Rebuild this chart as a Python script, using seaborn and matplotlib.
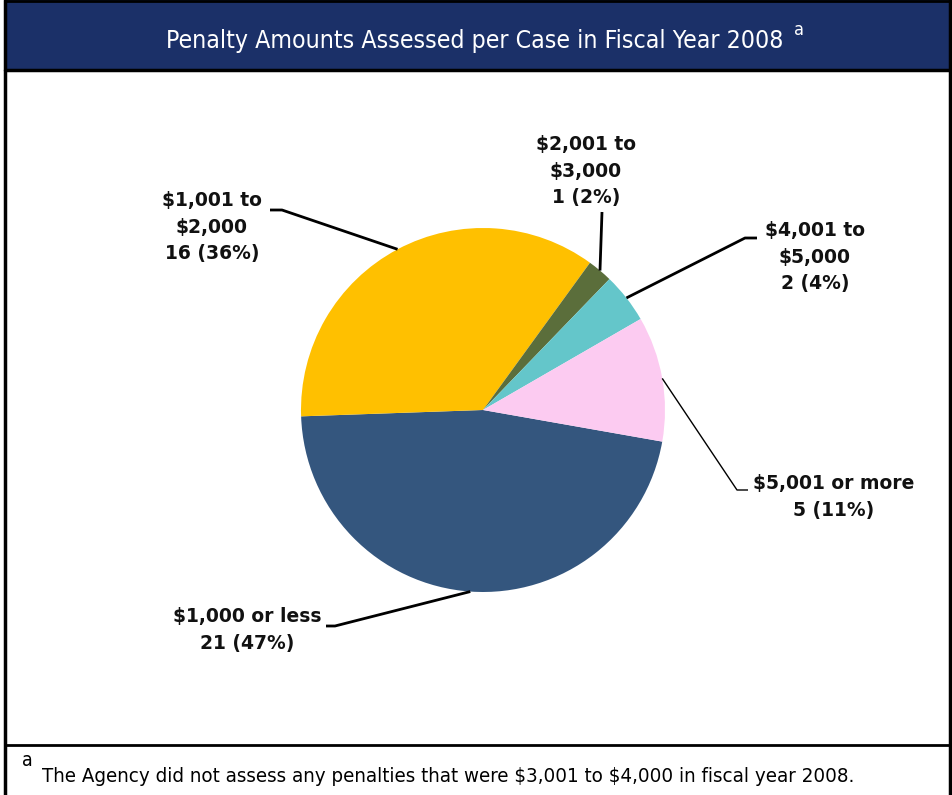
import numpy as np
import matplotlib
matplotlib.use("Agg")
import matplotlib.pyplot as plt
import seaborn as sns
from matplotlib.patches import Rectangle

sns.set_theme(style="white")
plt.rcParams['font.family'] = ['DejaVu Sans']

# data
categories = ['$1,000 or less', '$1,001 to\n$2,000', '$2,001 to\n$3,000',
              '$4,001 to\n$5,000', '$5,001 or more']
cases = [21, 16, 1, 2, 5]
percents = [47, 36, 2, 4, 11]
colors = ['#34567e', '#ffc000', '#5b6e3b', '#64c6ca', '#fccbf1']

title = 'Penalty Amounts Assessed per Case in Fiscal Year 2008'
footnote = r'The Agency did not assess any penalties that were \$3,001 to \$4,000 in fiscal year 2008.'

W, H = 953, 795
fig = plt.figure(figsize=(W / 100, H / 100), dpi=100)
ax = fig.add_axes([0, 0, 1, 1])

def Y(y):
    # image row -> data y
    return H - y

# pie
cx, cy, r = 483, Y(410), 182
wedges, _ = ax.pie(cases, colors=colors, startangle=-10, counterclock=False,
                   center=(cx, cy), radius=r, frame=True,
                   wedgeprops=dict(linewidth=0))
ax.set_xlim(0, W)
ax.set_ylim(0, H)
ax.axis('off')

# frame + title bar
ax.add_patch(Rectangle((5, Y(70)), 945, 70, facecolor='#1b3068', edgecolor='none', zorder=1))
ax.plot([5, 950], [Y(70), Y(70)], color='black', lw=2.5, zorder=2)
ax.plot([5, 950], [Y(1), Y(1)], color='black', lw=2, zorder=2)
ax.plot([5, 950], [Y(745), Y(745)], color='black', lw=2, zorder=2)
ax.plot([5, 5], [Y(0), Y(795)], color='black', lw=2.5, zorder=2)
ax.plot([950, 950], [Y(0), Y(795)], color='black', lw=2.5, zorder=2)

ax.text(475, Y(41), title, color='white', fontsize=17.8, ha='center', va='center',
        fontstretch='condensed')
ax.text(794, Y(30), 'a', color='white', fontsize=13, ha='left', va='center',
        fontstretch='condensed')

ax.text(22, Y(761), 'a', color='black', fontsize=14, ha='left', va='center',
        fontstretch='condensed')
ax.text(42, Y(776), footnote, color='black', fontsize=14.7, ha='left', va='center',
        fontstretch='condensed')

# label placement: text anchor (image px), elbow point, line end, line width
layout = [
    ((247, 630), (335, 626), (326, 626), 2),
    ((212, 227), (282, 210), (270, 210), 2),
    ((586, 171), (602, 212), (602, 212), 2),
    ((815, 257), (745, 238), (757, 238), 2),
    ((834, 497), (737, 490), (748, 490), 1),
]
labels = [f'{c}\n{n} ({p}%)' for c, n, p in zip(categories, cases, percents)]
for w, lab, (tpos, elbow, end, lw) in zip(wedges, labels, layout):
    ang = np.deg2rad((w.theta1 + w.theta2) / 2)
    px, py = cx + r * np.cos(ang), cy + r * np.sin(ang)
    ax.plot([px, elbow[0], end[0]], [py, Y(elbow[1]), Y(end[1])],
            color='black', lw=lw, zorder=3, solid_capstyle='butt')
    ax.text(tpos[0], Y(tpos[1]), lab, fontsize=13.5, fontweight='bold', ha='center',
            va='center', linespacing=1.5, color='#111111')

fig.savefig('out.png', dpi=100)
